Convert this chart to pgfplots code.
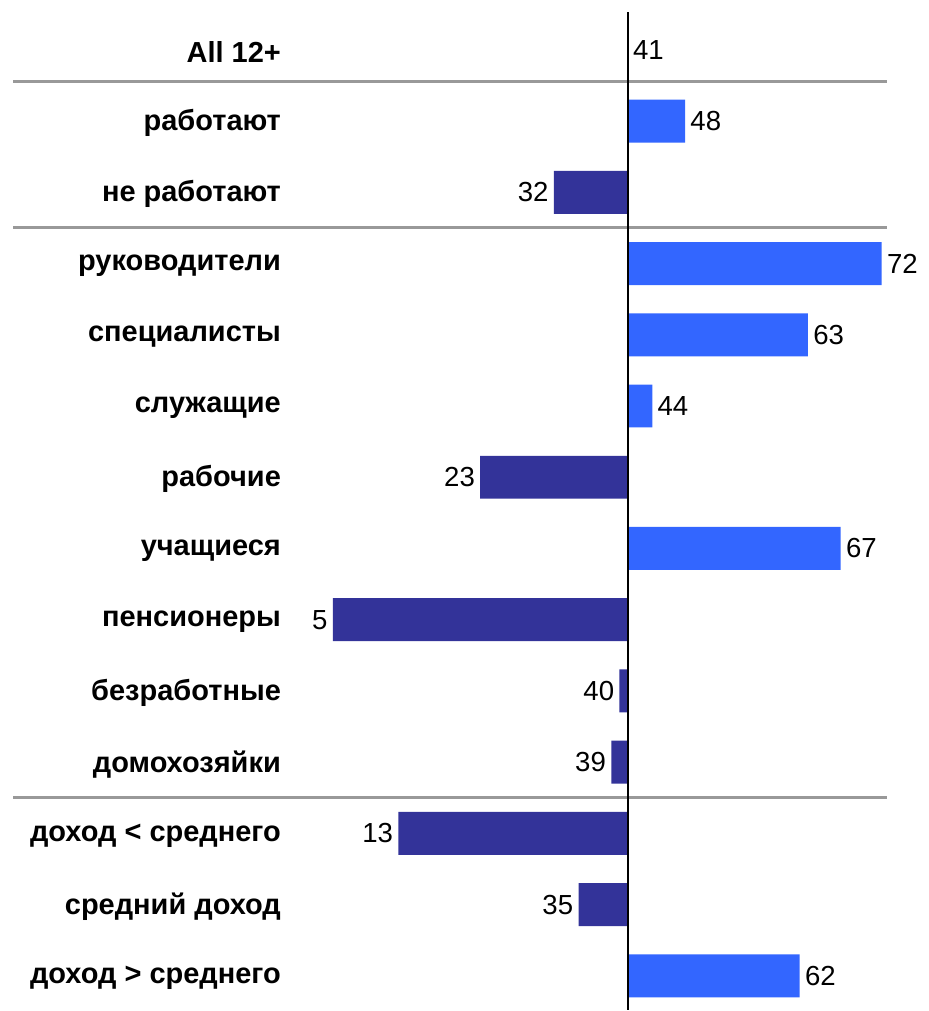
\documentclass[border=0pt]{standalone}
\usepackage{fontspec}
\setmainfont{Liberation Sans}
\usepackage{pgfplots}
\usepackage{pgfplotstable}
\pgfplotsset{compat=1.18}

\definecolor{posbar}{HTML}{3366FF}
\definecolor{negbar}{HTML}{333399}
\definecolor{sepline}{HTML}{999999}

% row index (0 = top) and share; bars start at the All 12+ level (41)
\pgfplotstableread{
row v
0 41
1 48
3 72
4 63
5 44
7 67
13 62
}\above

\pgfplotstableread{
row v
2 32
6 23
8 5
9 40
10 39
11 13
12 35
}\below

\begin{document}
\begin{tikzpicture}
\begin{axis}[
  x=4.1pt, y=35.65pt, y dir=reverse,
  xmin=-76.6, xmax=36.7, ymin=-0.70, ymax=13.48,
  axis line style={draw=none},
  xtick=\empty,
  ytick={0,...,13},
  yticklabels={All 12+, работают, не работают, руководители, специалисты, служащие, рабочие, учащиеся, пенсионеры, безработные, домохозяйки, доход < среднего, средний доход, доход > среднего},
  major tick length=0pt,
  yticklabel style={anchor=east, xshift=144pt, yshift=-1pt, font=\bfseries\fontsize{14.5}{16}\selectfont},
  clip=false,
  xbar, bar width=21.5pt,
  nodes near coords,
  point meta=explicit,
  /pgf/number format/assume math mode=true,
]
\addplot[xbar, bar shift=0pt, fill=posbar, draw=none,
  every node near coord/.style={font=\fontsize{13.8}{15}\selectfont, black, inner sep=2.5pt, anchor=west}]
  table[x expr=\thisrow{v}-41, y=row, meta=v] {\above};
\addplot[xbar, bar shift=0pt, fill=negbar, draw=none,
  every node near coord/.style={font=\fontsize{13.8}{15}\selectfont, black, inner sep=2.5pt, anchor=east}]
  table[x expr=\thisrow{v}-41, y=row, meta=v] {\below};

\draw[sepline, line width=1.5pt] (axis cs:-75,0.45) -- (axis cs:31.7,0.45);
\draw[sepline, line width=1.5pt] (axis cs:-75,2.5) -- (axis cs:31.7,2.5);
\draw[sepline, line width=1.5pt] (axis cs:-75,10.5) -- (axis cs:31.7,10.5);
\draw[black, line width=1pt] (axis cs:0,-0.53) -- (axis cs:0,13.48);
\end{axis}
\end{tikzpicture}
\end{document}
